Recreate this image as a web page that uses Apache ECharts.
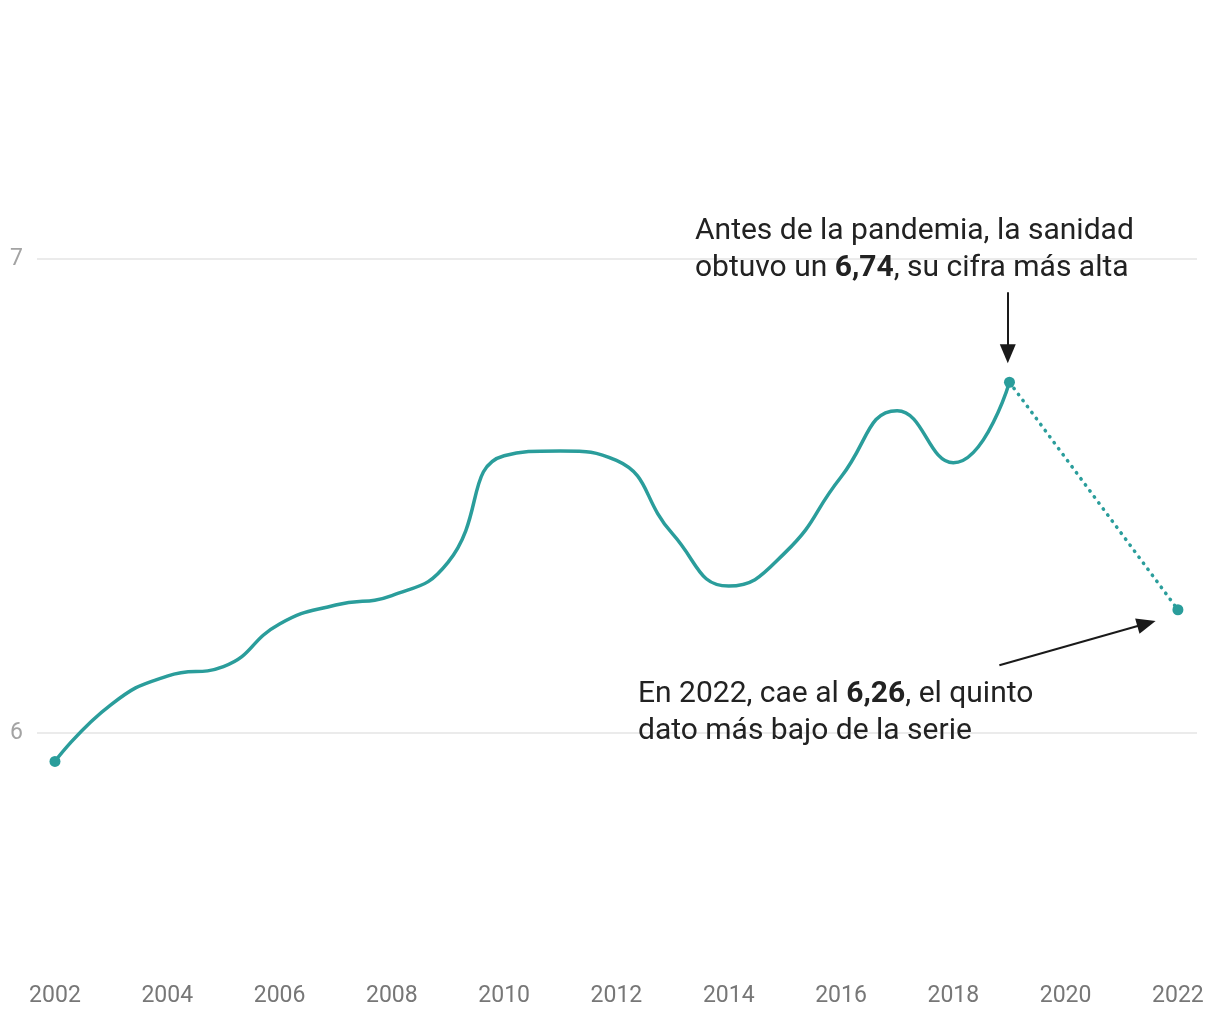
<!DOCTYPE html>
<html>
<head>
<meta charset="utf-8">
<script src="https://cdn.jsdelivr.net/npm/echarts@6/dist/echarts.min.js"></script>
<style>
  html, body { margin: 0; padding: 0; background: #fff; }
  #chart { width: 1220px; height: 1020px; }
</style>
</head>
<body>
<div id="chart"></div>
<script>
// ---- Data ----
const years = [2002, 2003, 2004, 2005, 2006, 2007, 2008, 2009, 2010, 2011, 2012, 2013, 2014, 2015, 2016, 2017, 2018, 2019];
const values = [5.94, 6.06, 6.12, 6.14, 6.23, 6.27, 6.29, 6.36, 6.585, 6.595, 6.575, 6.42, 6.31, 6.38, 6.54, 6.68, 6.57, 6.74];
const recentYears = [2019, 2022];
const recentValues = [6.74, 6.26];
const xTickLabels = [2002, 2004, 2006, 2008, 2010, 2012, 2014, 2016, 2018, 2020, 2022];
const yTickLabels = [6, 7];

// annotation arrows in data coordinates [from, to]
const arrowPeak = [[2018.97, 6.93], [2018.97, 6.80]];
const arrowLast = [[2018.82, 6.143], [2021.44, 6.231]];

const teal = '#2a9d9b';
const textColor = '#222222';

const mainData = years.map((y, i) => [y, values[i]]);
const recentData = recentYears.map((y, i) => [y, recentValues[i]]);
const highlightData = [mainData[0], mainData[mainData.length - 1], recentData[recentData.length - 1]];

const chart = echarts.init(document.getElementById('chart'), null, { renderer: 'canvas' });

const fontFamily = 'Roboto, "Noto Sans", sans-serif';

const option = {
  animation: false,
  backgroundColor: '#ffffff',
  grid: { left: 37, right: 23, top: 22, bottom: 50, containLabel: false },
  xAxis: {
    type: 'value',
    min: 2001.68,
    max: 2022.34,
    axisLine: { show: false },
    axisTick: { show: false },
    splitLine: { show: false },
    axisLabel: {
      customValues: xTickLabels,
      formatter: v => String(v),
      color: '#777777',
      fontSize: 23,
      fontFamily: fontFamily,
      margin: 15
    }
  },
  yAxis: {
    type: 'value',
    min: 5.5,
    max: 7.5,
    axisLine: { show: false },
    axisTick: { show: false, customValues: yTickLabels },
    axisLabel: {
      customValues: yTickLabels,
      formatter: v => String(v),
      color: '#a3a3a3',
      fontSize: 23,
      fontFamily: fontFamily,
      margin: 14
    },
    splitLine: { show: true, lineStyle: { color: '#e4e4e4', width: 1.5 } }
  },
  series: [
    {
      type: 'line',
      data: mainData,
      smooth: 0.5,
      showSymbol: false,
      clip: false,
      lineStyle: { color: teal, width: 3.5 },
      z: 3
    },
    {
      type: 'line',
      data: recentData,
      showSymbol: false,
      clip: false,
      lineStyle: { color: teal, width: 3.5, type: [0.5, 7], cap: 'round' },
      z: 3,
      markLine: {
        silent: true,
        symbol: ['none', 'triangle'],
        symbolSize: [16, 19],
        label: { show: false },
        lineStyle: { color: '#1a1a1a', width: 2, type: 'solid' },
        emphasis: { disabled: true },
        data: [
          [{ coord: arrowPeak[0] }, { coord: arrowPeak[1] }],
          [{ coord: arrowLast[0] }, { coord: arrowLast[1] }]
        ]
      }
    },
    {
      type: 'scatter',
      data: highlightData,
      symbol: 'circle',
      symbolSize: 11,
      itemStyle: { color: teal, opacity: 1 },
      z: 4
    }
  ],
  graphic: [
    {
      type: 'text',
      left: 695,
      top: 213,
      z: 100,
      style: {
        text: 'Antes de la pandemia, la sanidad\nobtuvo un {b|6,74}, su cifra más alta',
        fill: textColor,
        font: '30px Roboto, "Noto Sans", sans-serif',
        lineHeight: 37,
        rich: {
          b: { fontWeight: 'bold', fontSize: 30, fontFamily: 'Roboto', fill: textColor, lineHeight: 37 }
        }
      }
    },
    {
      type: 'text',
      left: 638,
      top: 676,
      z: 100,
      style: {
        text: 'En 2022, cae al {b|6,26}, el quinto\ndato más bajo de la serie',
        fill: textColor,
        font: '30px Roboto, "Noto Sans", sans-serif',
        lineHeight: 37,
        rich: {
          b: { fontWeight: 'bold', fontSize: 30, fontFamily: 'Roboto', fill: textColor, lineHeight: 37 }
        }
      }
    }
  ]
};

chart.setOption(option);
</script>
</body>
</html>
